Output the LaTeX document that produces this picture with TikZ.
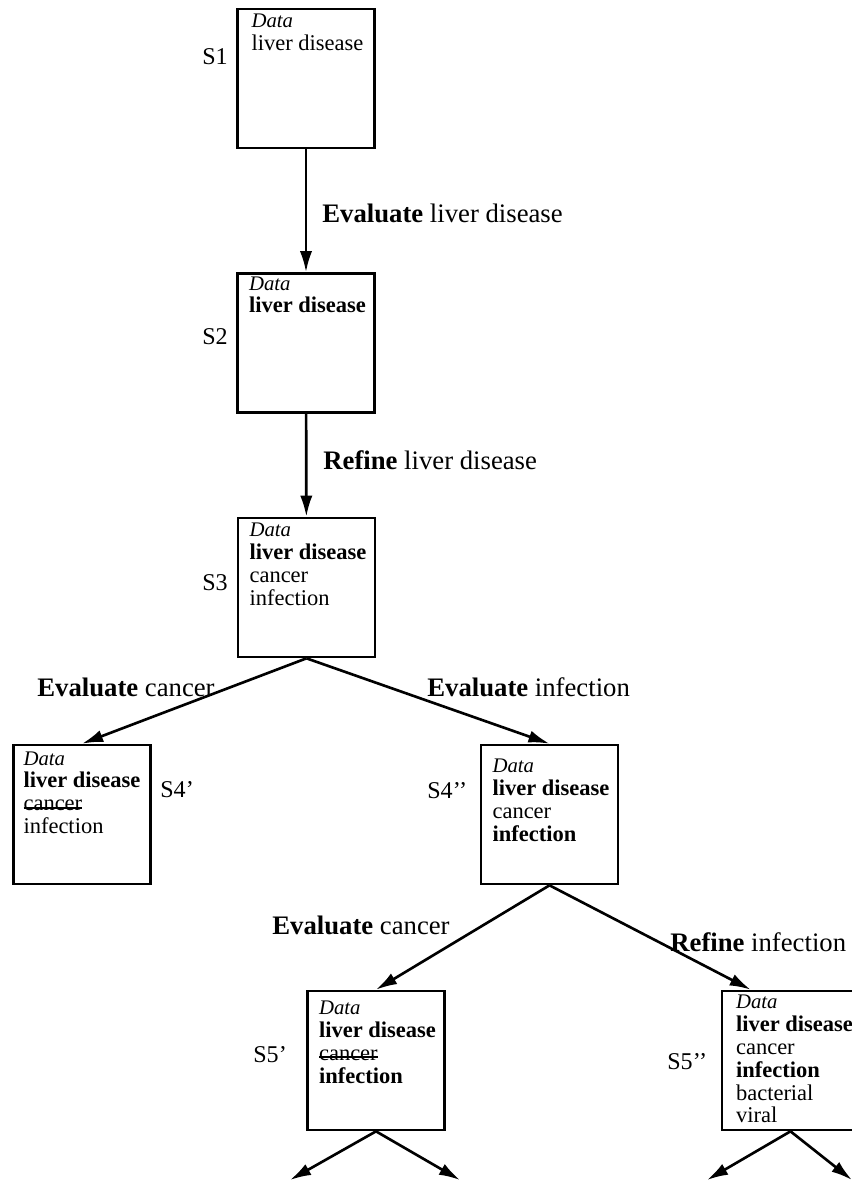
\documentclass[tikz,border=0pt]{standalone}
\usepackage{fontspec}
\setmainfont{Liberation Serif}
\usepackage{tikz}
\usetikzlibrary{arrows.meta,positioning}
\newlength{\strucklen}
\newcommand{\struck}[1]{\settowidth{\strucklen}{#1}\rlap{\rule[0.22ex]{\strucklen}{1.1pt}}#1}
\newcommand{\dat}{{\itshape\fontsize{11.8}{13}\selectfont Data}}
\tikzset{
  state/.style   ={draw, line width=1.5pt, minimum width=2.74cm, minimum height=2.78cm, inner sep=0pt},
  content/.style ={align=left, inner sep=0pt, font=\fontsize{12.8}{13}\selectfont},
  slabel/.style  ={anchor=west, inner sep=0pt, font=\fontsize{13.7}{14}\selectfont},
  oplabel/.style ={anchor=west, inner sep=0pt, font=\fontsize{15.2}{16}\selectfont},
  arr/.style     ={-{Latex[length=12pt,width=7pt]}, line width=1.5pt},
}
\begin{document}
\begin{tikzpicture}
  \useasboundingbox (0,0) rectangle (17.02,-23.64);

  % linear part: S1 -> S2 -> S3
  \node[state] (s1) at (6.12,-1.57)  {};
  \node[state] (s2) at (6.12,-6.86)  {};
  \node[state] (s3) at (6.13,-11.75) {};
  \node[content, below right=0.12cm and 0.3cm of s1.north west] (t1) {\dat\\liver disease};
  \node[content, below right=0.08cm and 0.25cm of s2.north west] (t2) {\dat\\\textbf{liver disease}};
  \node[content, below right=0.12cm and 0.25cm of s3.north west] (t3) {\dat\\\textbf{liver disease}\\cancer\\infection};
  \node[slabel] (l1) at (4.04,-1.13)  {S1};
  \node[slabel] (l2) at (4.04,-6.74)  {S2};
  \node[slabel] (l3) at (4.04,-11.66) {S3};
  \draw[arr] (s1) -- (s2);
  \draw[arr] (s2) -- (s3);
  \node[oplabel] (op1) at (6.44,-4.26) {\textbf{Evaluate} liver disease};
  \node[oplabel] (op2) at (6.46,-9.20) {\textbf{Refine} liver disease};

  % first branching: S4' and S4''
  \node[state] (s4a) at (1.64,-16.29)  {};
  \node[state] (s4b) at (10.99,-16.29) {};
  \node[content, below right=0.15cm and 0.22cm of s4a.north west] (t4a) {\dat\\\textbf{liver disease}\\\struck{cancer}\\infection};
  \node[content, below right=0.3cm and 0.25cm of s4b.north west] (t4b) {\dat\\\textbf{liver disease}\\cancer\\\textbf{infection}};
  \node[slabel] (l4a) at (3.20,-15.80) {S4'};
  \node[slabel] (l4b) at (8.54,-15.82) {S4'{}'};
  \draw[arr] (s3.south) -- (s4a.north);
  \draw[arr] (s3.south) -- (s4b.north);
  \node[oplabel] (op3) at (0.74,-13.74) {\textbf{Evaluate} cancer};
  \node[oplabel] (op4) at (8.54,-13.74) {\textbf{Evaluate} infection};

  % second branching: S5' and S5''
  \node[state] (s5a) at (7.52,-21.21)  {};
  \node[state] (s5b) at (15.81,-21.21) {};
  \node[content, below right=0.22cm and 0.25cm of s5a.north west] (t5a) {\dat\\\textbf{liver disease}\\\struck{cancer}\\\textbf{infection}};
  \node[content, below right=0.1cm and 0.3cm of s5b.north west] (t5b) {\dat\\\textbf{liver disease}\\cancer\\\textbf{infection}\\bacterial\\viral};
  \node[slabel] (l5a) at (5.06,-21.10) {S5'};
  \node[slabel] (l5b) at (13.34,-21.24) {S5'{}'};
  \draw[arr] (s4b.south) -- (s5a.north);
  \draw[arr] (s4b.south) -- ([xshift=0.6cm]s5b.north west);
  \node[oplabel] (op5) at (5.44,-18.50)  {\textbf{Evaluate} cancer};
  \node[oplabel] (op6) at (13.40,-18.84) {\textbf{Refine} infection};

  % open ends below
  \coordinate (e1) at (5.80,-23.60);
  \coordinate (e2) at (9.20,-23.60);
  \coordinate (e3) at (14.14,-23.60);
  \coordinate (e4) at (17.04,-23.60);
  \draw[arr] (s5a.south) -- (e1);
  \draw[arr] (s5a.south) -- (e2);
  \draw[arr] (s5b.south) -- (e3);
  \draw[arr] (s5b.south) -- (e4);
\end{tikzpicture}
\end{document}
